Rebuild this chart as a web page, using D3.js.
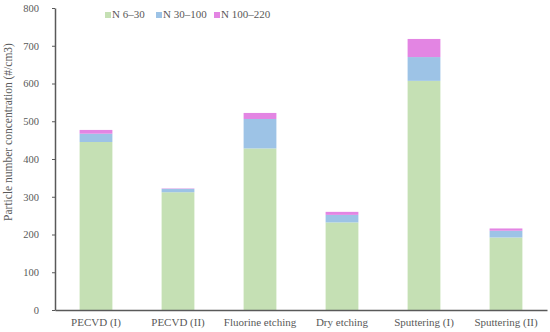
<!DOCTYPE html>
<html>
<head>
<meta charset="utf-8">
<script src="https://cdn.jsdelivr.net/npm/d3@7"></script>
<style>
body { margin: 0; background: #fff; }
text { font-family: "Liberation Serif", "Times New Roman", serif; fill: #595959; }
</style>
</head>
<body>
<div id="view"></div>
<script>
var width = 550, height = 332;

// データ
var categories = ["PECVD (I)", "PECVD (II)", "Fluorine etching", "Dry etching", "Sputtering (I)", "Sputtering (II)"];
var seriesNames = ["N 6\u201330", "N 30\u2013100", "N 100\u2013220"];
var n6_30 = [445, 312, 428, 232, 607, 192];
var n30_100 = [22, 9, 78, 20, 63, 18];
var n100_220 = [10, 1, 16, 8, 48, 6];
var yTicks = [0, 100, 200, 300, 400, 500, 600, 700, 800];
var colors = ["#c5e0b4", "#9dc3e6", "#e385e3"];

var margin = { left: 55, right: 3, top: 8, bottom: 22 };

var svg = d3.select("#view").append("svg")
	.attr("width", width)
	.attr("height", height);

var x = d3.scaleBand()
	.domain(categories)
	.range([margin.left, width - margin.right])
	.paddingInner(0.6)
	.paddingOuter(0.3);

var y = d3.scaleLinear()
	.domain([0, 800])
	.range([height - margin.bottom, margin.top]);

// 積み上げデータ
var rows = categories.map(function(c, i) {
	return { cat: c, s0: n6_30[i], s1: n30_100[i], s2: n100_220[i] };
});
var stack = d3.stack().keys(["s0", "s1", "s2"])(rows);

svg.selectAll(".layer")
	.data(stack).enter()
	.append("g")
	.attr("class", "layer")
	.style("fill", function(d, i) { return colors[i]; })
	.selectAll("rect")
	.data(function(d) { return d; }).enter()
	.append("rect")
	.attr("x", function(d) { return x(d.data.cat); })
	.attr("width", x.bandwidth())
	.attr("y", function(d) { return y(d[1]); })
	.attr("height", function(d) { return y(d[0]) - y(d[1]); });

// y軸
var yAxis = svg.append("g")
	.attr("transform", "translate(" + margin.left + ",0)")
	.call(d3.axisLeft(y).tickValues(yTicks).tickSize(3).tickSizeOuter(0).tickPadding(13));
yAxis.selectAll("text").style("font-size", "10.5px");
yAxis.selectAll("line").attr("stroke", "#595959");
yAxis.select(".domain").attr("stroke", "#595959").attr("stroke-width", 1.5);

// x軸
var xAxis = svg.append("g")
	.attr("transform", "translate(0," + y(0) + ")")
	.call(d3.axisBottom(x).tickSize(0).tickPadding(8));
xAxis.selectAll("text").style("font-size", "11px");
xAxis.select(".domain").attr("stroke", "#595959").attr("stroke-width", 1.5);

// y軸ラベル
svg.append("text")
	.attr("transform", "translate(12,132) rotate(-90)")
	.attr("text-anchor", "middle")
	.style("font-size", "11.5px")
	.text("Particle number concentration (#/cm3)");

// 凡例
var legendX = [105, 156, 214];
var legend = svg.selectAll(".legend")
	.data(seriesNames).enter()
	.append("g")
	.attr("class", "legend")
	.attr("transform", function(d, i) { return "translate(" + legendX[i] + ",18)"; });
legend.append("rect")
	.attr("x", 0).attr("y", -6)
	.attr("width", 6).attr("height", 6)
	.style("fill", function(d, i) { return colors[i]; });
legend.append("text")
	.attr("x", 7).attr("y", 0)
	.style("font-size", "11px")
	.text(function(d) { return d; });
</script>
</body>
</html>
